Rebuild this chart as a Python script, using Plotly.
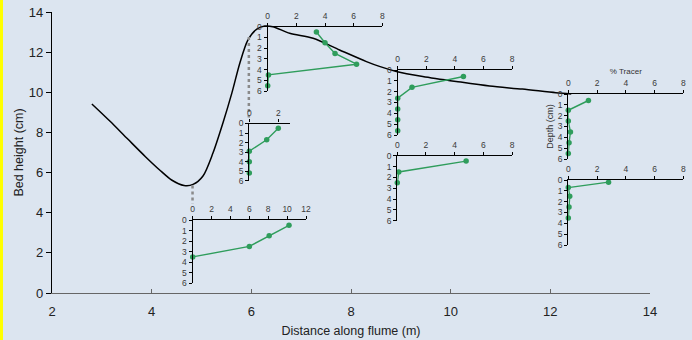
import plotly.graph_objects as go

# ---------------- data ----------------
bed_x = [2.80, 3.16, 3.52, 3.88, 4.16, 4.40, 4.65, 4.83, 5.03, 5.23, 5.43, 5.61, 5.77, 5.93,
         6.11, 6.27, 6.43, 6.77, 7.24, 7.77, 8.31, 8.57, 8.91, 9.44, 10.11, 10.78, 11.44, 12.11, 12.42]
bed_y = [9.42, 8.57, 7.67, 6.78, 6.13, 5.63, 5.36, 5.41, 5.83, 6.97, 8.47, 9.97, 11.46, 12.60,
         13.15, 13.30, 13.27, 12.94, 12.69, 12.11, 11.53, 11.29, 11.04, 10.79, 10.54, 10.31, 10.16, 9.98, 9.92]

# vertical dotted connectors (distance, top bed height, bottom height)
conn_x = [4.82, 5.95]
conn_top = [5.35, 12.75]
conn_bot = [4.45, 8.75]

# tracer profiles: % tracer vs depth (cm)
tracerA = [10.2, 8.1, 6.0, 0.0]
depthA = [0.5, 1.5, 2.5, 3.5]
tracerB = [3.4, 4.0, 4.7, 6.2, 0.05, 0.0]
depthB = [0.5, 1.5, 2.5, 3.5, 4.5, 5.5]
tracerC = [2.0, 1.2, 0.0, 0.0, 0.0]
depthC = [0.5, 1.7, 2.9, 4.0, 5.2]
tracerD = [4.6, 1.0, 0.0, 0.0, 0.0, 0.0]
depthD = [0.6, 1.6, 2.6, 3.6, 4.6, 5.6]
tracerE = [4.8, 0.1, 0.0]
depthE = [0.5, 1.5, 2.5]
tracerF = [1.4, 0.0, 0.0, 0.15, 0.05, 0.0]
depthF = [0.6, 1.5, 2.5, 3.5, 4.5, 5.5]
tracerG = [2.8, 0.0, 0.1, 0.05, 0.0]
depthG = [0.2, 0.7, 1.5, 2.5, 3.5]

x_ticks_main = [2, 4, 6, 8, 10, 12, 14]
y_ticks_main = [0, 2, 4, 6, 8, 10, 12, 14]

# ---------------- layout helpers ----------------
W, H = 692, 340
L, R, T, B = 10, 690, 5, 293


def hx(px):
    return (px - L) / (R - L)


def vy(py):
    return (B - py) / (B - T)


BG = "#dce5f0"
GREEN = "#2f9d5c"
FONT = "Liberation Sans, Arial, sans-serif"
NARROW = "Liberation Sans Narrow, Arial Narrow, Liberation Sans, sans-serif"

fig = go.Figure()

# main bed profile
fig.add_trace(go.Scatter(x=bed_x, y=bed_y, mode="lines", line=dict(color="black", width=1.5, shape="spline", smoothing=0.8),
                         xaxis="x", yaxis="y", showlegend=False, hoverinfo="skip"))
for cx, ct, cb in zip(conn_x, conn_top, conn_bot):
    fig.add_trace(go.Scatter(x=[cx, cx], y=[ct, cb], mode="lines",
                             line=dict(color="#8a8a8a", width=2.5, dash="dot"),
                             xaxis="x", yaxis="y", showlegend=False, hoverinfo="skip"))

# insets: (tracer, depth, x0px, x1px, xmax, top py, bottom py)
insets = [
    (tracerA, depthA, 192.7, 306.0, 12, 220.0, 283.3),
    (tracerB, depthB, 267.7, 382.3, 8, 26.7, 91.0),
    (tracerC, depthC, 249.3, 289.9, 2.8, 123.5, 180.7),
    (tracerD, depthD, 397.7, 512.0, 8, 70.0, 135.0),
    (tracerE, depthE, 397.3, 512.0, 8, 155.7, 220.7),
    (tracerF, depthF, 568.3, 683.3, 8, 94.0, 159.0),
    (tracerG, depthG, 568.3, 683.3, 8, 180.0, 245.0),
]

layout = dict(
    width=W, height=H,
    margin=dict(l=L, r=W - R, t=T, b=H - B, pad=0),
    paper_bgcolor=BG, plot_bgcolor="rgba(0,0,0,0)",
    showlegend=False,
    template="none",
    font=dict(family=FONT, color="#222"),
    xaxis=dict(domain=[hx(52), hx(650)], range=[2, 14], tickvals=x_ticks_main,
               showline=True, linecolor="#666", linewidth=1.2, ticks="inside", ticklen=4, tickcolor="#666",
               showgrid=False, zeroline=False, automargin=False, ticklabelstandoff=6,
               tickfont=dict(size=13, family=FONT, color="#222"),
               title=dict(text="Distance along flume (m)", font=dict(size=12.5, family=FONT, color="#222"), standoff=8),
               anchor="y"),
    yaxis=dict(domain=[0, vy(12)], range=[0, 14], tickvals=y_ticks_main,
               showline=True, linecolor="black", linewidth=1.2, ticks="outside", ticklen=5, tickcolor="black",
               showgrid=False, zeroline=False, automargin=False,
               tickfont=dict(size=13, family=FONT, color="#222"),
               title=dict(text="Bed height (cm)", font=dict(size=12.5, family=FONT, color="#222"), standoff=2),
               anchor="x"),
    shapes=[dict(type="rect", xref="paper", yref="paper", x0=hx(0), x1=hx(3), y0=vy(H), y1=vy(0),
                 fillcolor="#ffff00", line=dict(width=0), layer="below")],
)

for i, (pct, dep, x0, x1, xmax, top, bot) in enumerate(insets, start=2):
    fig.add_trace(go.Scatter(x=pct, y=dep, mode="lines+markers",
                             line=dict(color=GREEN, width=1.4),
                             marker=dict(color=GREEN, size=5.5),
                             xaxis=f"x{i}", yaxis=f"y{i}", cliponaxis=False,
                             showlegend=False, hoverinfo="skip"))
    xa = dict(domain=[hx(x0), hx(x1)], range=[0, xmax], anchor=f"y{i}", side="top",
              tick0=0, dtick=2, showline=True, linecolor="black", linewidth=1.4,
              ticks="outside", ticklen=3, tickcolor="black", tickwidth=1,
              showgrid=False, zeroline=False, automargin=False,
              tickfont=dict(size=8.5, family=NARROW, color="#3a3a3a"))
    ya = dict(domain=[vy(bot), vy(top)], range=[6, 0], anchor=f"x{i}",
              tick0=0, dtick=1, showline=True, linecolor="black", linewidth=1.4,
              ticks="outside", ticklen=3, tickcolor="black", tickwidth=1,
              showgrid=False, zeroline=False, automargin=False,
              tickfont=dict(size=8.5, family=NARROW, color="#3a3a3a"))
    if i == 7:  # top-right inset with axis titles
        xa["title"] = dict(text="% Tracer", font=dict(size=8, family=NARROW, color="#333"), standoff=2)
        ya["title"] = dict(text="Depth (cm)", font=dict(size=9, family=NARROW, color="#333"), standoff=2)
    layout[f"xaxis{i}"] = xa
    layout[f"yaxis{i}"] = ya

fig.update_layout(**layout)
fig.write_html("out.html", config={"displayModeBar": False},
               post_script="document.body.style.margin='0';document.body.style.background='%s';" % BG)
